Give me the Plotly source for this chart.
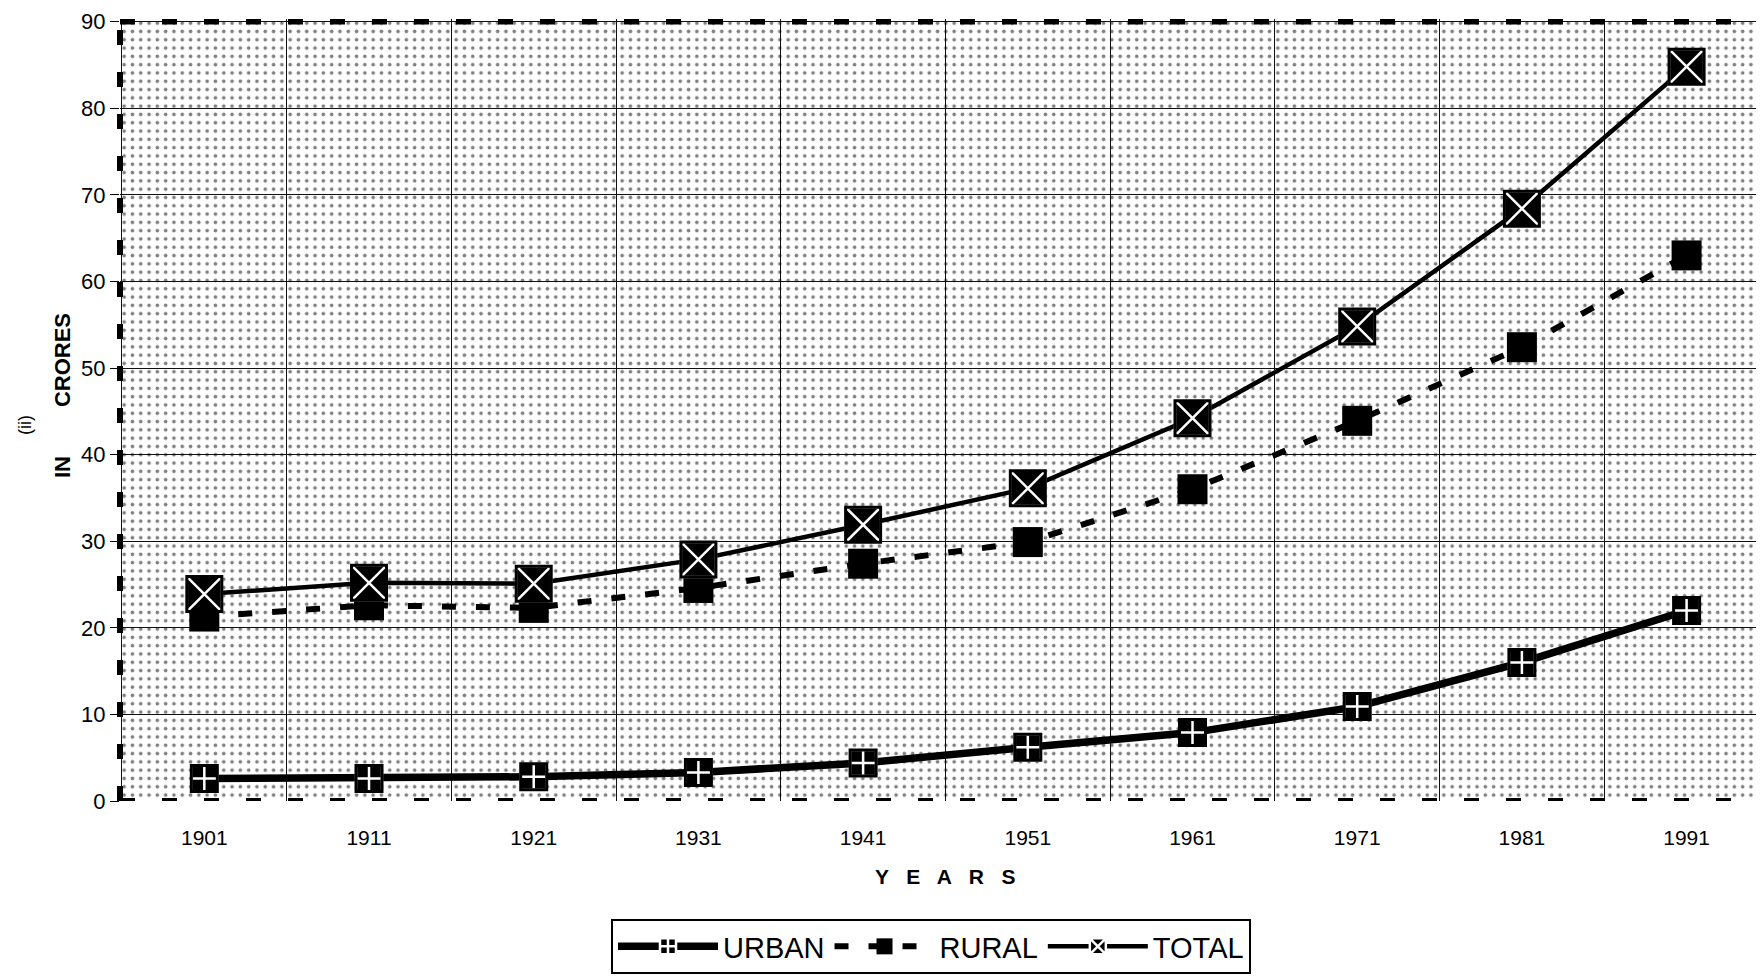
import plotly.graph_objects as go

# ---- data (values in crores) ----
YEARS = [1901, 1911, 1921, 1931, 1941, 1951, 1961, 1971, 1981, 1991]
YEAR_LABELS = [str(y) for y in YEARS]
URBAN = [2.6, 2.6, 2.8, 3.3, 4.4, 6.2, 7.9, 10.9, 16.0, 22.0]
RURAL = [21.3, 22.6, 22.3, 24.6, 27.4, 29.9, 36.0, 43.9, 52.4, 63.0]
TOTAL = [23.9, 25.2, 25.1, 27.9, 31.9, 36.1, 44.2, 54.8, 68.4, 84.8]
Y_TICKS = list(range(0, 100, 10))

Y_MIN, Y_MAX = 0, 90
X_RANGE = [1895.88, 1995.7]
GRID_START = 1896

FONT = "Liberation Sans, Arial, sans-serif"

# figure geometry (page body adds an 8px margin)
W, H = 1756, 969
ML, MT, PH = 112, 11, 782
PW = W - ML
PB = MT + PH  # plot bottom in figure px


def px(xf):
    return (xf - 8 - ML) / PW


def py(yf):
    return (PB - (yf - 8)) / PH


fig = go.Figure()

# dotted background texture of the plotting area
fig.add_trace(go.Scatter(
    x=[X_RANGE[0], X_RANGE[1], X_RANGE[1], X_RANGE[0], X_RANGE[0]],
    y=[Y_MIN, Y_MIN, Y_MAX, Y_MAX, Y_MIN],
    mode="lines", line=dict(width=0), fill="toself",
    fillcolor="rgba(0,0,0,0)",
    fillpattern=dict(shape=".", fgcolor="black", bgcolor="rgba(0,0,0,0)",
                     size=8.3, solidity=0.15, fillmode="overlay"),
    hoverinfo="skip", showlegend=False,
))

fig.add_trace(go.Scatter(
    x=YEARS, y=URBAN, name="URBAN", mode="lines+markers",
    line=dict(color="black", width=7.5),
    marker=dict(symbol="square-cross", size=26, color="black",
                line=dict(color="white", width=2.5)),
))
fig.add_trace(go.Scatter(
    x=YEARS, y=URBAN, mode="markers", showlegend=False, hoverinfo="skip",
    marker=dict(symbol="square-open", size=26, color="black",
                line=dict(color="black", width=3)),
))
fig.add_trace(go.Scatter(
    x=YEARS, y=RURAL, name="RURAL", mode="lines+markers",
    line=dict(color="black", width=6, dash="14px,20px"),
    marker=dict(symbol="square", size=30, color="black",
                line=dict(color="black", width=0)),
))
fig.add_trace(go.Scatter(
    x=YEARS, y=TOTAL, name="TOTAL", mode="lines+markers",
    line=dict(color="black", width=4.5),
    marker=dict(symbol="square-x", size=35, color="black",
                line=dict(color="white", width=2.5)),
))
fig.add_trace(go.Scatter(
    x=YEARS, y=TOTAL, mode="markers", showlegend=False, hoverinfo="skip",
    marker=dict(symbol="square-open", size=35, color="black",
                line=dict(color="black", width=3)),
))

# dashed frame lines (top, bottom, left)
dash_line = dict(color="black", width=6, dash="15px,27px")
fig.add_shape(type="line", xref="paper", yref="y", x0=0, x1=1, y0=Y_MAX, y1=Y_MAX,
              line=dash_line, layer="above")
fig.add_shape(type="line", xref="paper", yref="y", x0=0, x1=1, y0=Y_MIN, y1=Y_MIN,
              line=dash_line, layer="above")
fig.add_shape(type="line", xref="paper", yref="paper", x0=0, x1=0, y0=0, y1=1,
              line=dash_line, layer="above")

fig.update_layout(
    width=W, height=H,
    margin=dict(l=ML, r=0, t=MT, b=H - PB, autoexpand=False),
    paper_bgcolor="white", plot_bgcolor="white",
    font=dict(family=FONT, color="black"),
    showlegend=True,
    legend=dict(
        orientation="h", x=px(931), xanchor="center",
        y=py(974), yanchor="bottom",
        font=dict(size=29, family=FONT, color="black"),
        bordercolor="black", borderwidth=2, bgcolor="white",
        itemwidth=100, tracegroupgap=0,
    ),
    xaxis=dict(
        range=X_RANGE, tickmode="array", tickvals=YEARS, ticktext=YEAR_LABELS,
        showgrid=False, zeroline=False, showline=False, automargin=False,
        ticks="", tickfont=dict(size=21, family=FONT, color="black"),
        ticklabelstandoff=22,
        minor=dict(tick0=GRID_START, dtick=10, showgrid=True, gridcolor="#111",
                   gridwidth=1.2, ticks=""),
    ),
    yaxis=dict(
        range=[Y_MIN, Y_MAX + 0.3], tickmode="array", tickvals=Y_TICKS,
        showgrid=True, gridcolor="#111", gridwidth=1.2, zeroline=False,
        showline=False, ticks="outside", ticklen=9, tickcolor="black",
        automargin=False,
        tickfont=dict(size=22, family=FONT, color="black"),
    ),
    annotations=[
        dict(text="Y   E   A   R   S", xref="paper", yref="paper",
             x=px(945), y=py(877),
             xanchor="center", yanchor="middle", showarrow=False,
             font=dict(size=21, family=FONT, color="black", weight="bold")),
        dict(text="IN        CRORES", xref="paper", yref="paper",
             x=px(62), y=py(396),
             xanchor="center", yanchor="middle", showarrow=False, textangle=-90,
             font=dict(size=22, family=FONT, color="black", weight="bold")),
        dict(text="(ii)", xref="paper", yref="paper",
             x=px(25), y=py(425),
             xanchor="center", yanchor="middle", showarrow=False, textangle=-90,
             font=dict(size=18, family=FONT, color="black")),
    ],
)

fig.write_html("out.html")
